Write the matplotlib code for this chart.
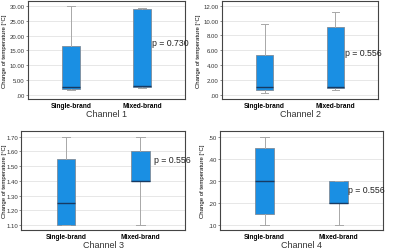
import matplotlib
matplotlib.use("Agg")
import matplotlib.pyplot as plt

groups = ["Single-brand", "Mixed-brand"]
channels = ["Channel 1", "Channel 2", "Channel 3", "Channel 4"]
p_values = ["p = 0.730", "p = 0.556", "p = 0.556", "p = 0.556"]

# whisker low, Q1, median, Q3, whisker high per group
ch1_single = [1.8, 2.0, 2.7, 16.5, 30.0]
ch1_mixed = [2.2, 2.5, 3.1, 29.0, 29.5]
ch2_single = [0.3, 0.6, 1.0, 5.3, 9.6]
ch2_mixed = [0.7, 0.9, 1.0, 9.1, 11.2]
ch3_single = [1.10, 1.10, 1.25, 1.55, 1.70]
ch3_mixed = [1.10, 1.40, 1.40, 1.60, 1.70]
ch4_single = [0.10, 0.15, 0.30, 0.45, 0.50]
ch4_mixed = [0.10, 0.20, 0.20, 0.30, 0.30]

ticks1 = [0, 5, 10, 15, 20, 25, 30]
ticks2 = [0, 2, 4, 6, 8, 10, 12]
ticks3 = [1.1, 1.2, 1.3, 1.4, 1.5, 1.6, 1.7]
ticks4 = [0.1, 0.2, 0.3, 0.4, 0.5]

plt.rcParams["font.family"] = ["Liberation Sans", "DejaVu Sans"]

# rect, data, ticks, ylim, p-text position, ylabel x (axes coords)
panels = [
    ([0.070, 0.602, 0.393, 0.390], [ch1_single, ch1_mixed], ticks1, (-1.35, 31.7), (0.79, 0.58), -0.134),
    ([0.555, 0.602, 0.390, 0.390], [ch2_single, ch2_mixed], ticks2, (-0.54, 12.63), (0.79, 0.47), -0.135),
    ([0.053, 0.080, 0.410, 0.394], [ch3_single, ch3_mixed], ticks3, (1.066, 1.739), (0.81, 0.71), -0.085),
    ([0.550, 0.080, 0.408, 0.394], [ch4_single, ch4_mixed], ticks4, (0.077, 0.526), (0.785, 0.41), -0.092),
]


def fmt(v):
    s = f"{v:.2f}"
    return s[1:] if s.startswith("0") else s


fig = plt.figure(figsize=(4.0, 2.51), dpi=100)

for i, (rect, data, ticks, ylim, ptxt, labx) in enumerate(panels):
    ax = fig.add_axes(rect)
    stats = []
    for g, d in zip(groups, data):
        stats.append({"label": g, "whislo": d[0], "q1": d[1], "med": d[2],
                      "q3": d[3], "whishi": d[4], "fliers": []})
    ax.bxp(stats, positions=[1, 2], widths=0.25, patch_artist=True,
           showfliers=False,
           boxprops=dict(facecolor="#1A8FE3", edgecolor="#7F8C99", linewidth=0.6),
           medianprops=dict(color="#173A63", linewidth=1.0),
           whiskerprops=dict(color="#A8A8A8", linewidth=0.7),
           capprops=dict(color="#A8A8A8", linewidth=0.7),
           capwidths=0.11)
    ax.set_xlim(0.4, 2.6)
    ax.set_ylim(*ylim)
    ax.set_yticks(ticks)
    ax.set_yticklabels([fmt(t) for t in ticks], fontsize=4.3)
    ax.set_xticks([1, 2])
    ax.set_xticklabels(groups, fontsize=4.8, fontweight="bold")
    ax.tick_params(axis="y", length=1.5, width=0.4, pad=0.8, colors="#333333")
    ax.tick_params(axis="x", length=0, pad=2)
    ax.yaxis.grid(True, color="#E3E3E3", linewidth=0.6)
    ax.set_axisbelow(True)
    for sp in ax.spines.values():
        sp.set_color("#444444")
        sp.set_linewidth(0.8)
    ax.set_ylabel("Change of temperature [\u00b0C]", fontsize=4.3)
    ax.yaxis.set_label_coords(labx, 0.5)
    ax.set_xlabel(channels[i], fontsize=6.5, labelpad=0.5, color="#333333")
    ax.text(ptxt[0], ptxt[1], p_values[i], transform=ax.transAxes,
            fontsize=6.3, va="center", ha="left", color="#222222")

fig.savefig("out.png", dpi=100)
